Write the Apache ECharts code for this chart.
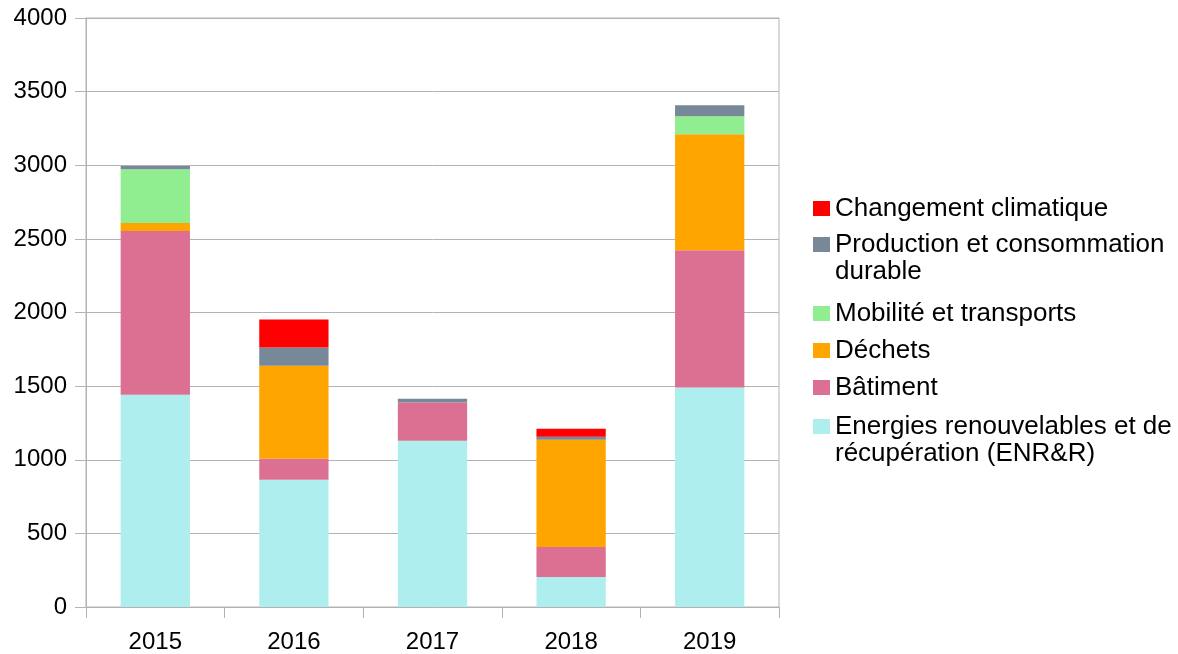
<!DOCTYPE html>
<html><head><meta charset="utf-8">
<script src="https://cdn.jsdelivr.net/npm/echarts@6/dist/echarts.min.js"></script>
<style>html,body{margin:0;padding:0;background:#fff}#c{width:1178px;height:654px}</style>
</head><body><div id="c"></div>
<script>
var years = ['2015','2016','2017','2018','2019'];
var enr = [1442, 864, 1129, 204, 1490];
var batiment = [1111, 143, 259, 204, 932];
var dechets = [54, 632, 0, 728, 789];
var mobilite = [366, 0, 0, 0, 122];
var production = [22, 123, 27, 20, 75];
var changement = [0, 190, 0, 55, 0];
// legend labels: first line / second line
var names = ['Energies renouvelables et de récupération (ENR&R)','Bâtiment','Déchets','Mobilité et transports','Production et consommation durable','Changement climatique'];
var firstLines = ['Energies renouvelables et de','Bâtiment','Déchets','Mobilité et transports','Production et consommation','Changement climatique'];
var secondLines = ['récupération (ENR&R)','','','','durable',''];
var colors = ['#afeeee','#db7093','#ffa500','#90ee90','#778899','#ff0000'];
var dataSets = [enr, batiment, dechets, mobilite, production, changement];

var series = dataSets.map(function(d,i){
  return {name:names[i], type:'bar', stack:'a', data:d, barWidth:'50%',
    itemStyle:{color:colors[i]}};
});
var font = 'Liberation Sans, Arial, sans-serif';
function mkLegend(idxs, top){
  return {orient:'vertical', left:813, top:top, padding:0, itemWidth:17, itemHeight:15, itemGap:8,
    data:idxs.map(function(i){return names[i];}),
    formatter:function(n){return firstLines[names.indexOf(n)];},
    textStyle:{fontSize:26, color:'#000', lineHeight:29, fontFamily:font},
    icon:'rect'};
}
var legends = [mkLegend([5],194), mkLegend([4],230), mkLegend([3,2,1],299), mkLegend([0],412)];
var graphics = [];
[[4,272],[0,454]].forEach(function(p){
  graphics.push({type:'text', x:835, y:p[1], style:{text:secondLines[p[0]], font:'26px '+font, fill:'#000', textVerticalAlign:'middle'}});
});
var chart = echarts.init(document.getElementById('c'));
chart.setOption({
  animation:false,
  textStyle:{fontFamily:font},
  grid:{left:86, right:399, top:18, bottom:47, show:true, borderColor:'#b3b3b3', borderWidth:1},
  legend:legends,
  graphic:graphics,
  xAxis:{type:'category', data:years,
    axisLine:{lineStyle:{color:'#b3b3b3'}},
    axisTick:{show:true, length:11, lineStyle:{color:'#b3b3b3'}},
    axisLabel:{fontSize:24, color:'#000', margin:23}},
  yAxis:{type:'value', min:0, max:4000, interval:500,
    axisLine:{show:true, lineStyle:{color:'#b3b3b3'}},
    axisTick:{show:true, length:11, lineStyle:{color:'#b3b3b3'}},
    splitLine:{lineStyle:{color:'#b3b3b3'}},
    axisLabel:{fontSize:24, color:'#000', margin:19, formatter:function(v){return String(v);}}},
  series:series
});
</script></body></html>
